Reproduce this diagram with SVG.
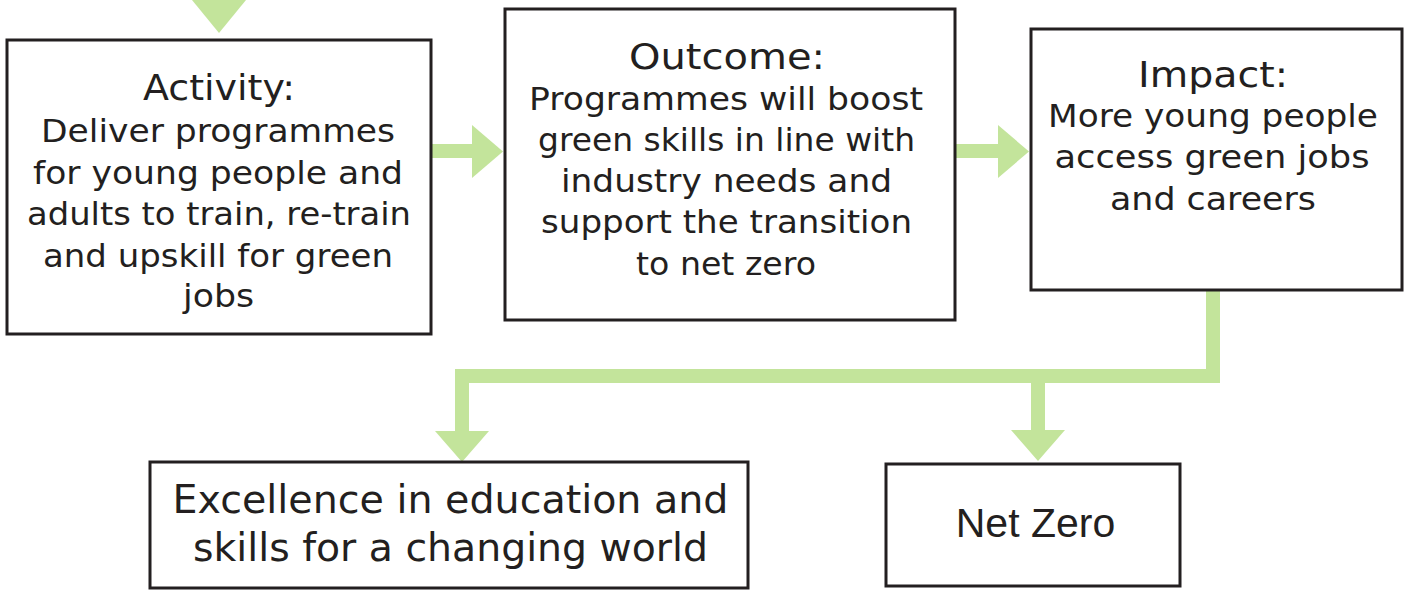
<svg xmlns="http://www.w3.org/2000/svg" width="1410" height="590" viewBox="0 0 1410 590">
<style>
.box{fill:#ffffff;stroke:#231f20;stroke-width:3}
.t{font-family:"DejaVu Sans","Noto Sans",sans-serif;fill:#231f20;text-anchor:middle}
.h{font-size:35px}
.b{font-size:32px}
.big{font-size:39px}
.nz{font-family:"Liberation Sans",Arial,sans-serif;font-size:41px;fill:#231f20;text-anchor:middle}
.arr{fill:#c3e49b}
.line{fill:none;stroke:#c3e49b;stroke-width:14;stroke-linejoin:miter}
</style>
<rect width="1410" height="590" fill="#ffffff"/>
<g id="connectors">
<polygon class="arr" points="192,0 246,0 219,33"/>
<rect class="arr" x="432" y="144" width="41" height="14"/>
<polygon class="arr" points="472,125 503,151.5 472,178"/>
<rect class="arr" x="956" y="144" width="43" height="14"/>
<polygon class="arr" points="998,125 1029,151.5 998,178"/>
<path class="line" d="M1213,290 V376 H462 V432"/>
<path class="line" d="M1038,376 V431"/>
<polygon class="arr" points="435,431 489,431 462,462"/>
<polygon class="arr" points="1011,430 1065,430 1038,461"/>
</g>
<g id="activity">
<rect class="box" x="7" y="40" width="424" height="294"/>
<text class="t h" x="219" y="100" textLength="152" lengthAdjust="spacingAndGlyphs">Activity:</text>
<text class="t b" x="218" y="142" textLength="354" lengthAdjust="spacingAndGlyphs">Deliver programmes</text>
<text class="t b" x="218" y="183.5" textLength="370" lengthAdjust="spacingAndGlyphs">for young people and</text>
<text class="t b" x="219" y="225" textLength="384" lengthAdjust="spacingAndGlyphs">adults to train, re-train</text>
<text class="t b" x="218" y="266.5" textLength="350" lengthAdjust="spacingAndGlyphs">and upskill for green</text>
<text class="t b" x="218.5" y="307" textLength="71" lengthAdjust="spacingAndGlyphs">jobs</text>
</g>
<g id="outcome">
<rect class="box" x="505" y="9" width="450" height="311"/>
<text class="t h" x="727" y="69" textLength="196" lengthAdjust="spacingAndGlyphs">Outcome:</text>
<text class="t b" x="726" y="110" textLength="394" lengthAdjust="spacingAndGlyphs">Programmes will boost</text>
<text class="t b" x="726.5" y="151" textLength="377" lengthAdjust="spacingAndGlyphs">green skills in line with</text>
<text class="t b" x="726.5" y="192" textLength="331" lengthAdjust="spacingAndGlyphs">industry needs and</text>
<text class="t b" x="726.5" y="233" textLength="371" lengthAdjust="spacingAndGlyphs">support the transition</text>
<text class="t b" x="726" y="275" textLength="180" lengthAdjust="spacingAndGlyphs">to net zero</text>
</g>
<g id="impact">
<rect class="box" x="1031" y="29" width="371" height="261"/>
<text class="t h" x="1213" y="87" textLength="150" lengthAdjust="spacingAndGlyphs">Impact:</text>
<text class="t b" x="1213" y="127" textLength="330" lengthAdjust="spacingAndGlyphs">More young people</text>
<text class="t b" x="1212" y="168" textLength="315" lengthAdjust="spacingAndGlyphs">access green jobs</text>
<text class="t b" x="1213" y="210" textLength="206" lengthAdjust="spacingAndGlyphs">and careers</text>
</g>
<g id="excellence">
<rect class="box" x="150" y="462" width="598" height="126"/>
<text class="t big" x="450.5" y="513" textLength="556" lengthAdjust="spacingAndGlyphs">Excellence in education and</text>
<text class="t big" x="450.5" y="561" textLength="515" lengthAdjust="spacingAndGlyphs">skills for a changing world</text>
</g>
<g id="netzero">
<rect class="box" x="886" y="464" width="294" height="122"/>
<text class="nz" x="1035.5" y="537">Net Zero</text>
</g>
</svg>
